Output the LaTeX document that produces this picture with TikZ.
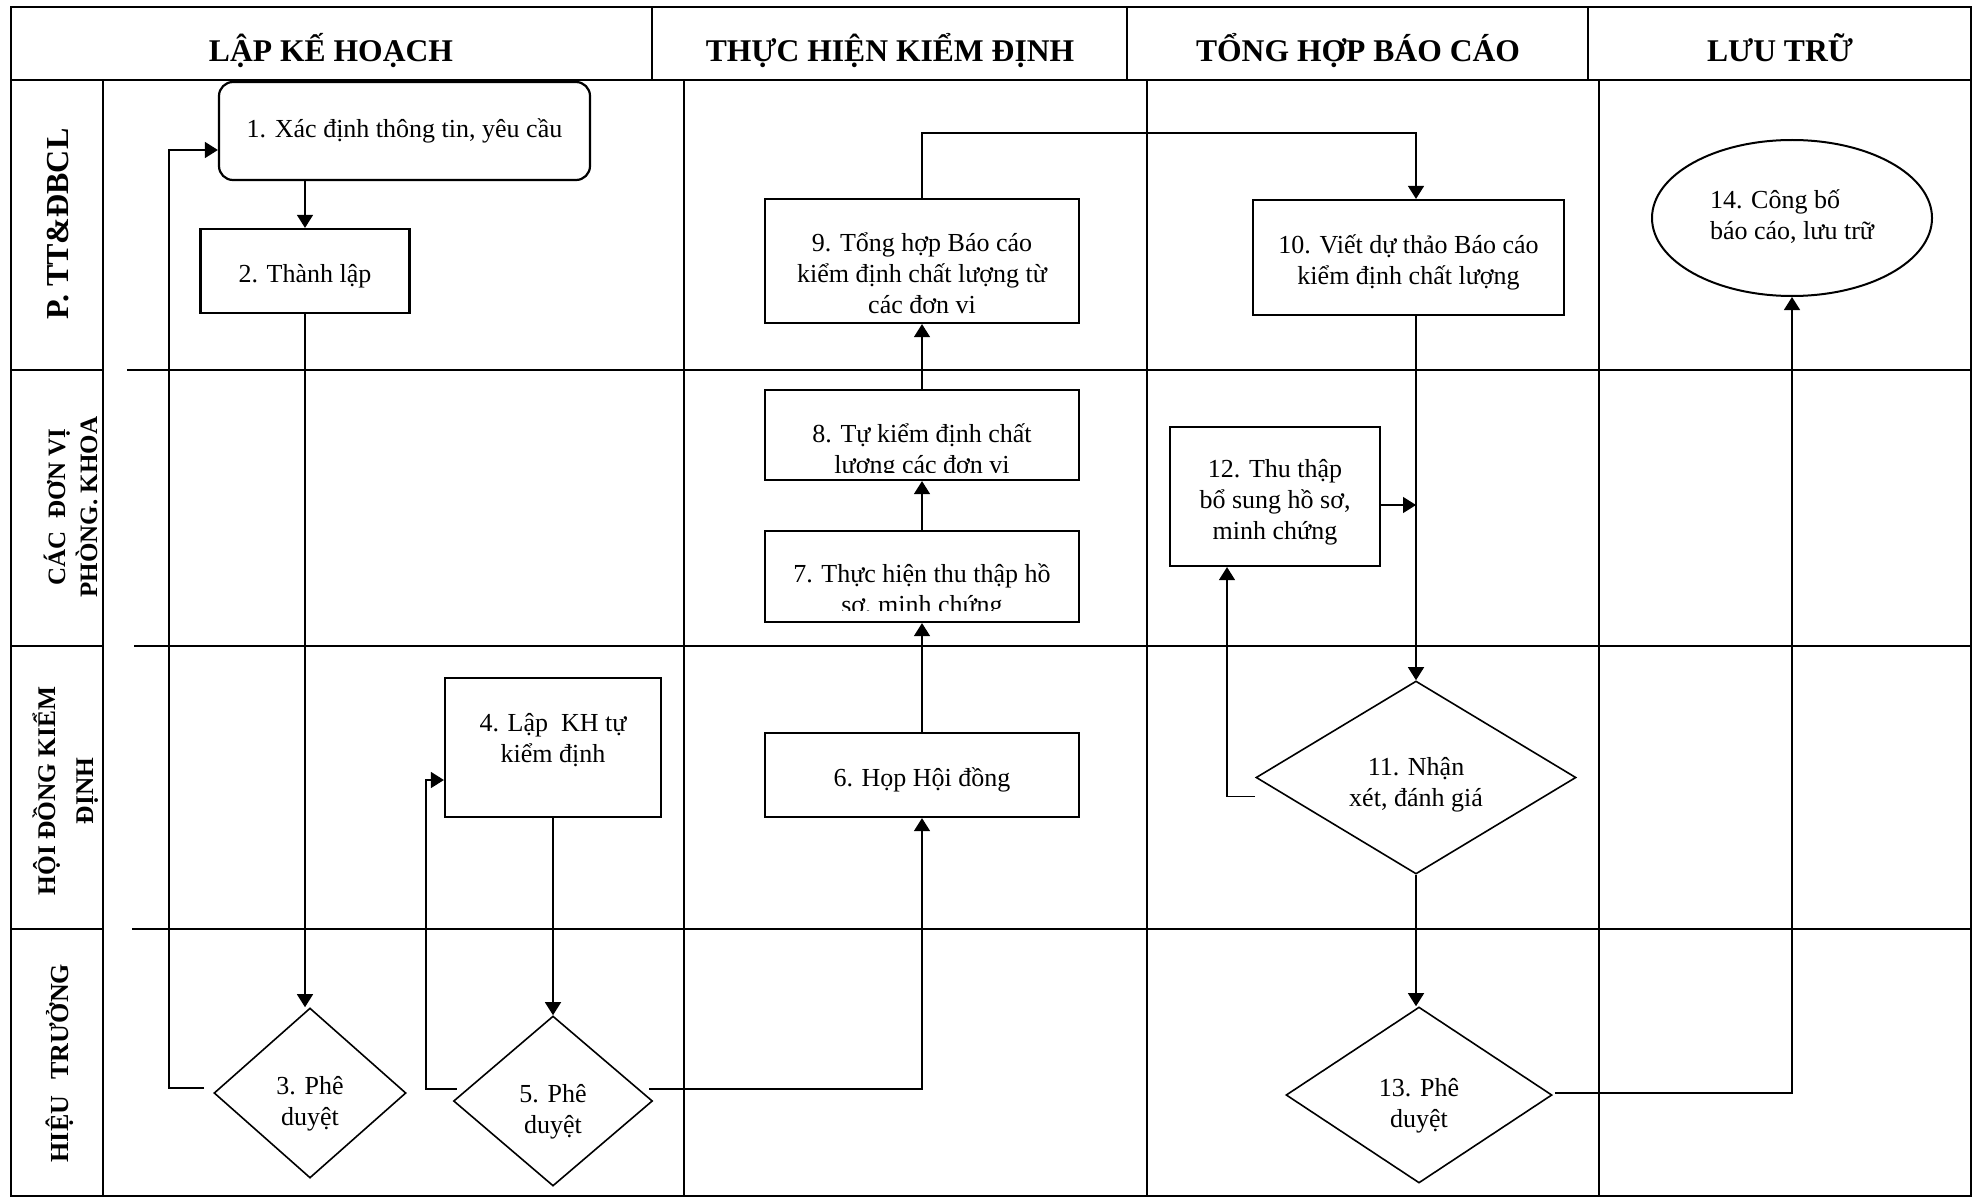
\documentclass[tikz,border=0pt]{standalone}
\usepackage{fontspec}
\setmainfont{Liberation Serif}
\usetikzlibrary{arrows.meta,shapes.geometric,calc}

\newcommand\bodyfont{\fontsize{13}{15.5}\selectfont}
\newcommand\headfont{\fontsize{15.8}{18}\selectfont\bfseries}
% centred lines of text, lowered by #1 pt without changing the reported box size
\newcommand\tx[2][0]{\raisebox{-#1pt}[\height][\depth]{\begin{tabular}{@{}c@{}}#2\end{tabular}}}

\begin{document}
\begin{tikzpicture}[x=0.5pt, y=-0.5pt,
  grid/.style={line width=1.1pt, line cap=rect},
  box/.style={draw, line width=1.1pt, rectangle, inner sep=0pt, fill=white, font=\bodyfont},
  dia/.style={draw, line width=0.8pt, diamond, inner sep=0pt, fill=white, font=\bodyfont},
  oval/.style={draw, line width=1pt, ellipse, inner sep=0pt, fill=white, font=\bodyfont},
  txt/.style={inner sep=0pt, font=\bodyfont},
  head/.style={inner sep=0pt, font=\headfont, anchor=base},
  lane/.style={inner sep=0pt, rotate=90, anchor=base},
  arr/.style={line width=0.7pt, -{Triangle[length=6.5pt,width=8pt]}}]

\useasboundingbox (0,0) rectangle (1974,1198);

% ---- frame, header row and swimlane grid ----
\draw[grid] (11,7) -- (1971,7);
\draw[grid] (11,80) -- (1971,80);
\draw[grid] (11,7) -- (11,1196);
\draw[grid] (1971,7) -- (1971,1196);
\draw[grid] (11,1196) -- (1971,1196);
\foreach \x in {652,1127,1588} \draw[grid] (\x,7) -- (\x,80);
\foreach \x in {103,684,1147,1599} \draw[grid] (\x,80) -- (\x,1196);
\foreach \y in {370,646,929} \draw[grid] (11,\y) -- (103,\y);
\draw[grid] (128,370) -- (1971,370);
\draw[grid] (135,646) -- (1971,646);
\draw[grid] (133,929) -- (1971,929);

% ---- column headers ----
\node[head] (h1) at (331,62) {LẬP KẾ HOẠCH};
\node[head] (h2) at (890,62) {THỰC HIỆN KIỂM ĐỊNH};
\node[head] (h3) at (1358,62) {TỔNG HỢP BÁO CÁO};
\node[head] (h4) at (1780,62) {LƯU TRỮ};

% ---- lane titles ----
\node[lane, font=\fontsize{16}{19}\selectfont\bfseries] (l1) at (68,224) {P. TT\&ĐBCL};
\node[lane, font=\fontsize{12.5}{16}\selectfont\bfseries] (l2) at (65,507)
  {\begin{tabular}[t]{@{}c@{}}CÁC\ \ ĐƠN VỊ\\PHÒNG. KHOA\end{tabular}};
\node[lane, font=\fontsize{12.7}{19}\selectfont\bfseries] (l3) at (55,791)
  {\begin{tabular}[t]{@{}c@{}}HỘI ĐỒNG KIỂM\\ĐỊNH\end{tabular}};
\node[lane, font=\fontsize{13}{15}\selectfont\bfseries] (l4) at (68,1063) {HIỆU\hspace{8pt}TRƯỞNG};

% ---- process steps ----
\node[box, rounded corners=7pt, minimum width=185.5pt, minimum height=49pt] (n1) at (404.5,131)
  {\tx{1. Xác định thông tin, yêu cầu}};
\node[box, minimum width=104.5pt, minimum height=42pt] (n2) at (305,271) {\tx[2.5]{2. Thành lập}};
\node[dia, aspect=1.13, minimum width=96pt, minimum height=85pt] (d3) at (310,1093) {\tx[5.5]{3. Phê\\duyệt}};
\node[box, minimum width=108pt, minimum height=69.5pt] (n4) at (553,747.5) {\tx[-3.5]{4. Lập\ \ KH tự\\kiểm định}};
\node[dia, aspect=1.17, minimum width=99.5pt, minimum height=85pt] (d5) at (553,1101) {\tx[5.5]{5. Phê\\duyệt}};
\node[box, minimum width=157pt, minimum height=42pt] (n6) at (922,775) {\tx[2.5]{6. Họp Hội đồng}};
\node[box, minimum width=157pt, minimum height=45.5pt] (n7) at (922,576.5) {};
\node[box, minimum width=157pt, minimum height=45pt] (n8) at (922,435) {};
\node[box, minimum width=157pt, minimum height=62pt] (n9) at (922,261)
  {\tx[7.5]{9. Tổng hợp Báo cáo\\kiểm định chất lượng từ\\các đơn vi}};
\node[box, minimum width=155.5pt, minimum height=57.5pt] (n10) at (1408.5,257.5)
  {\tx[2.5]{10. Viết dự thảo Báo cáo\\kiểm định chất lượng}};
\node[dia, aspect=1.66, minimum width=160pt, minimum height=96.5pt] (d11) at (1416,777.5)
  {\tx[3.5]{11. Nhận\\xét, đánh giá}};
\node[box, minimum width=105pt, minimum height=69.5pt] (n12) at (1275,496.5)
  {\tx[3]{12. Thu thập\\bổ sung hồ sơ,\\minh chứng}};
\node[dia, aspect=1.51, minimum width=133pt, minimum height=88pt] (d13) at (1419,1095) {\tx[5.5]{13. Phê\\duyệt}};
\node[oval, minimum width=140pt, minimum height=78pt] (n14) at (1792,218)
  {\begin{tabular}{@{}l@{}}14. Công bố\\báo cáo, lưu trữ\end{tabular}};

% text of steps 7 and 8, cut off by the lower edge of their boxes
\begin{scope}
  \clip (765,390) rectangle (1079,472);
  \node[txt, anchor=base] (t8) at (922,442)
    {\begin{tabular}[t]{@{}c@{}}8. Tự kiểm định chất\\lượng các đơn vi\end{tabular}};
\end{scope}
\begin{scope}
  \clip (765,531) rectangle (1079,610);
  \node[txt, anchor=base] (t7) at (922,582)
    {\begin{tabular}[t]{@{}c@{}}7. Thực hiện thu thập hồ\\sơ, minh chứng\end{tabular}};
\end{scope}

% ---- connectors ----
\coordinate (lp3) at (169,0);
\coordinate (d3out) at ($(d3.west)+(-9,-5)$);
\coordinate (n1in) at ($(n1.west)+(0,19)$);
\coordinate (lp5) at (426,0);
\coordinate (d5out) at ($(d5.west)+(4,-12)$);
\coordinate (d5right) at ($(d5.east)+(-4,-12)$);
\coordinate (n4in) at ($(n4.west)+(0,32.5)$);
\coordinate (top9) at (0,133);
\coordinate (n12out) at ($(n12.east)+(0,8.5)$);
\coordinate (d11out) at ($(d11.west)+(0,19)$);
\coordinate (n12in) at ($(n12.south)+(-48,0)$);
\coordinate (d13out) at ($(d13.east)+(2,-2)$);

\draw[arr] (n1.south -| n2.north) -- (n2.north);
\draw[arr] (n2.south) -- (n2.south |- d3.north);
\draw[arr] (d3out) -- (d3out -| lp3) |- (n1in);
\draw[arr] (n4.south) -- (n4.south |- d5.north);
\draw[arr] (d5out) -- (d5out -| lp5) |- (n4in);
\draw[arr] (d5right) -| (n6.south);
\draw[arr] (n6.north) -- (n7.south);
\draw[arr] (n7.north) -- (n8.south);
\draw[arr] (n8.north) -- (n9.south);
\draw[arr] (n9.north) -- (n9.north |- top9) -| (d11.north |- n10.north);
\draw[arr] (d11.north |- n10.south) -- (d11.north);
\draw[arr] (n12out) -- (n12out -| d11.north);
\draw[arr] (d11out) -| (n12in);
\draw[arr] (d11.south) -- (d11.south |- d13.north);
\draw[arr] (d13out) -| (n14.south);
\end{tikzpicture}
\end{document}
